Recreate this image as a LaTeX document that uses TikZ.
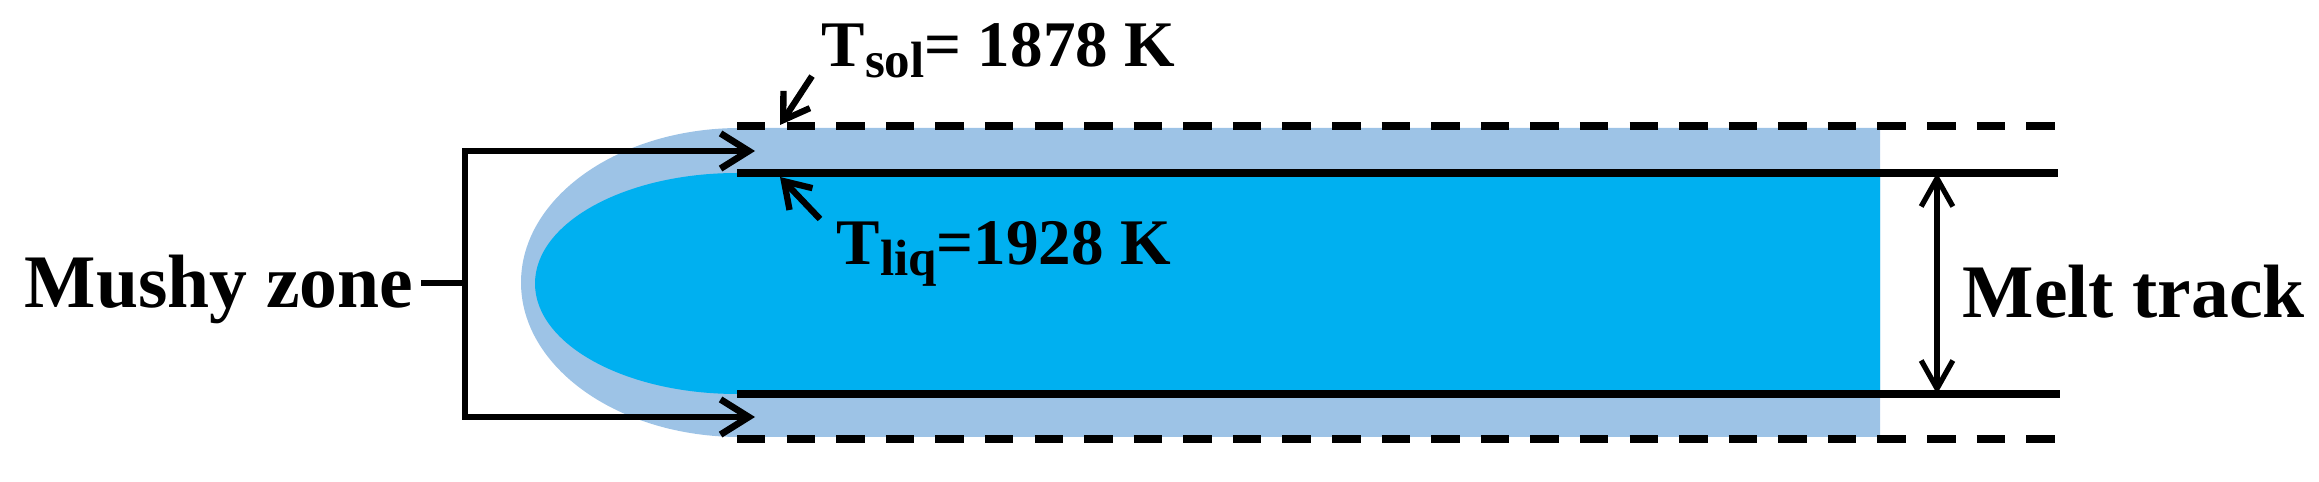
\documentclass[tikz,border=0pt]{standalone}
\usepackage{fontspec}
\setmainfont{Liberation Serif}
\usetikzlibrary{arrows.meta}
\definecolor{mushblue}{HTML}{9DC3E6}
\definecolor{meltblue}{HTML}{00B0F0}
\newcommand{\tsub}[1]{\raisebox{-3.1pt}{\fontsize{14.5}{14.5}\selectfont #1}}
\tikzset{
  lbl/.style={font=\fontsize{21.5}{24}\selectfont\bfseries, inner sep=0pt},
  tlbl/.style={font=\fontsize{18.5}{21}\selectfont\bfseries, inner sep=0pt},
  edge/.style={line width=1.9pt},
  bound/.style={line width=2pt, dash pattern=on 8.1pt off 6pt},
  tip/.style={line width=1.9pt, -{Straight Barb[length=8pt,width=10pt]}},
  ptr/.style={line width=1.8pt, -{Straight Barb[length=7pt,width=9pt]}},
  span/.style={line width=1.5pt, {Straight Barb[length=8pt,width=9pt]}-{Straight Barb[length=8pt,width=9pt]}}
}
\begin{document}
\begin{tikzpicture}[x=0.01cm,y=0.01cm]
\useasboundingbox (0,0) rectangle (2319,482);
\def\mushypath{(1880,354) -- (740,354) arc (90:270:219 and 154.5) -- (1880,45) -- cycle}
\def\meltpath{(1880,309) -- (737,309) arc (90:270:202 and 110.5) -- (1880,88) -- cycle}

\fill[mushblue] \mushypath;
\fill[meltblue] \meltpath;

\coordinate (soltopA) at (737,356);
\coordinate (soltopB) at (2057,356);
\coordinate (solbotA) at (737,43);
\coordinate (solbotB) at (2057,43);
\coordinate (liqtopA) at (737,309);
\coordinate (liqtopB) at (2058,309);
\coordinate (liqbotA) at (737,88);
\coordinate (liqbotB) at (2060,88);

\draw[bound] (soltopA) -- (soltopB);
\draw[bound] (solbotA) -- (solbotB);
\draw[edge, line width=2pt] (liqtopA) -- (liqtopB);
\draw[edge, line width=2pt] (liqbotA) -- (liqbotB);

\node[lbl, anchor=base east] (mushy) at (414,174) {Mushy zone};
\node[lbl, anchor=base west] (melt) at (1962,164) {Melt track};
\node[tlbl, anchor=base west] (tsol) at (821,415) {T\tsub{sol}= 1878 K};
\node[tlbl, anchor=base west] (tliq) at (836,217) {T\tsub{liq}=1928 K};

\coordinate (brk) at (465,199);
\coordinate (arrtop) at (755,331);
\coordinate (arrbot) at (755,65);
\draw[edge] ([xshift=2pt]mushy.east |- brk) -- (brk);
\draw[tip] (brk) |- (arrtop);
\draw[tip] (brk) |- (arrbot);

\coordinate (spantop) at (1937,309);
\coordinate (spanbot) at (1937,88);
\draw[span] (spantop) -- (spanbot);

\coordinate (soltip) at (780,357);
\coordinate (liqtip) at (780,305);
\draw[ptr] ([shift={(-9,3)}]tsol.south west) -- (soltip);
\draw[ptr] ([shift={(-16,2)}]tliq.north west) -- (liqtip);
\end{tikzpicture}
\end{document}
